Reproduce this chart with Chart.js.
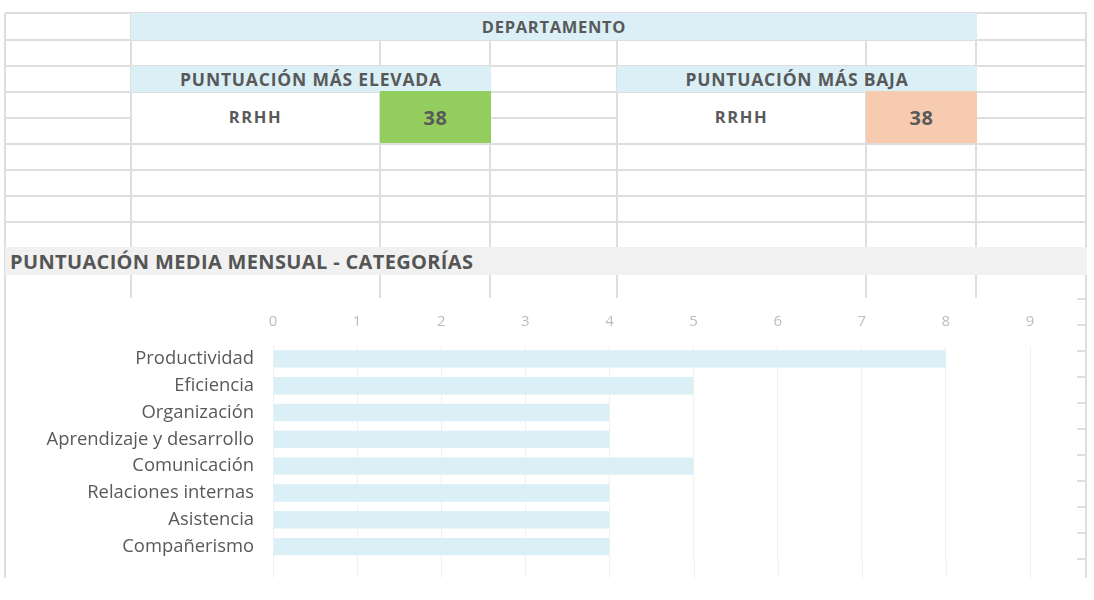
<!DOCTYPE html>
<html>
<head>
<meta charset="utf-8">
<script src="https://cdn.jsdelivr.net/npm/chart.js@4"></script>
<style>
  body { margin: 0; background: #fff; font-family: "Open Sans", sans-serif; color: #595959; }
  #sheet { position: relative; width: 1094px; height: 600px; overflow: hidden; }
  .ln { position: absolute; background: #dedede; }
  .box { position: absolute; display: flex; align-items: center; justify-content: center; font-weight: 700; }
  #chartBox { position: absolute; left: 7px; top: 298px; width: 1070px; height: 280px; background: #fff; }
</style>
</head>
<body>
<div id="sheet">
  <div id="chartBox"><canvas id="bars"></canvas></div>
</div>
<script>
// chart data
const categories = ['Productividad', 'Eficiencia', 'Organización', 'Aprendizaje y desarrollo',
  'Comunicación', 'Relaciones internas', 'Asistencia', 'Compañerismo'];
const scores = [8, 5, 4, 4, 5, 4, 4, 4];
const xTicks = [0, 1, 2, 3, 4, 5, 6, 7, 8, 9];

// summary cells
const dept = 'RRHH';
const topScore = 38;
const lowScore = 38;

const sheet = document.getElementById('sheet');

function line(x, y, w, h, color) {
  const d = document.createElement('div');
  d.className = 'ln';
  d.style.left = x + 'px'; d.style.top = y + 'px';
  d.style.width = w + 'px'; d.style.height = h + 'px';
  if (color) d.style.background = color;
  sheet.insertBefore(d, sheet.firstChild);
}

function box(x, y, w, h, bg, text, size, spacing) {
  const d = document.createElement('div');
  d.className = 'box';
  d.style.left = x + 'px'; d.style.top = y + 'px';
  d.style.width = w + 'px'; d.style.height = h + 'px';
  d.style.background = bg;
  d.style.fontSize = size + 'px';
  d.style.letterSpacing = (spacing || 0) + 'px';
  d.textContent = text || '';
  sheet.insertBefore(d, document.getElementById('chartBox'));
  return d;
}

// sheet grid
[13, 40, 66, 92, 144, 170, 196, 222].forEach(y => line(5, y - 1, 1082, 2));
[[5, 131], [490, 617], [976, 1086]].forEach(([a, b]) => line(a, 117, b - a + 1, 2));
[131, 380, 490, 617, 866, 976].forEach(x => line(x - 1, 13, 2, 285));
line(4, 13, 2, 565);
line(1085, 13, 2, 565);
line(4, 92, 2, 52, '#f7c9ad');
for (let y = 299; y <= 560; y += 26) line(1077, y - 1, 9, 2);

// merged white cells
box(132, 93, 247, 46, '#fff', dept, 16.5, 1.6);
box(618, 93, 247, 46, '#fff', dept, 16.5, 1.6);
// headers
box(131, 13, 846, 27, '#daf0f6', 'DEPARTAMENTO', 16.5, 0.7);
box(131, 66, 360, 26, '#daf0f6', 'PUNTUACIÓN MÁS ELEVADA', 17.5, 0.8);
box(617, 66, 360, 26, '#daf0f6', 'PUNTUACIÓN MÁS BAJA', 17.5, 0.8);
box(380, 91, 111, 52, '#92cd5e', String(topScore), 20, 0.5);
box(866, 91, 111, 52, '#f7cbb0', String(lowScore), 20, 0.5);
const title = box(5, 247, 1082, 28, '#f1f1f1', 'PUNTUACIÓN MEDIA MENSUAL - CATEGORÍAS', 20, 0.35);
title.style.justifyContent = 'flex-start';
title.style.paddingLeft = '5px';
title.style.boxSizing = 'border-box';
title.style.color = '#555';

// grid lines continue a little below the last bar
const gridTail = {
  id: 'gridTail',
  beforeDatasetsDraw(c) {
    const ctx = c.ctx;
    const xs = c.scales.x;
    ctx.save();
    ctx.strokeStyle = '#f0f0f0';
    ctx.lineWidth = 1;
    xs.ticks.forEach((t, i) => {
      const px = Math.round(xs.getPixelForTick(i)) + 0.5;
      ctx.beginPath();
      ctx.moveTo(px, c.chartArea.bottom);
      ctx.lineTo(px, c.height);
      ctx.stroke();
    });
    ctx.restore();
  }
};

new Chart(document.getElementById('bars'), {
  type: 'bar',
  data: {
    labels: categories,
    datasets: [{
      data: scores,
      backgroundColor: '#daf0f6',
      categoryPercentage: 1,
      barPercentage: 0.65,
    }],
  },
  options: {
    indexAxis: 'y',
    responsive: true,
    maintainAspectRatio: false,
    animation: false,
    layout: { padding: { left: 0, right: 47, top: 0, bottom: 18 } },
    plugins: { legend: { display: false }, tooltip: { enabled: false } },
    scales: {
      x: {
        position: 'top',
        min: 0,
        max: xTicks[xTicks.length - 1],
        afterBuildTicks: s => { s.ticks = xTicks.map(v => ({ value: v })); },
        afterFit: s => { s.height = 47.5; },
        grid: { color: '#f0f0f0', drawTicks: false },
        border: { display: false },
        ticks: { color: '#bdbdbd', padding: 15, font: { family: 'Open Sans', size: 15 } },
      },
      y: {
        afterFit: s => { s.width = 266; s.paddingTop = 0; s.paddingBottom = 0; },
        grid: { display: false, drawTicks: false },
        border: { display: false },
        ticks: { color: '#595959', padding: 19, font: { family: 'Open Sans', size: 18.4 } },
      },
    },
  },
  plugins: [gridTail],
});
</script>
</body>
</html>
